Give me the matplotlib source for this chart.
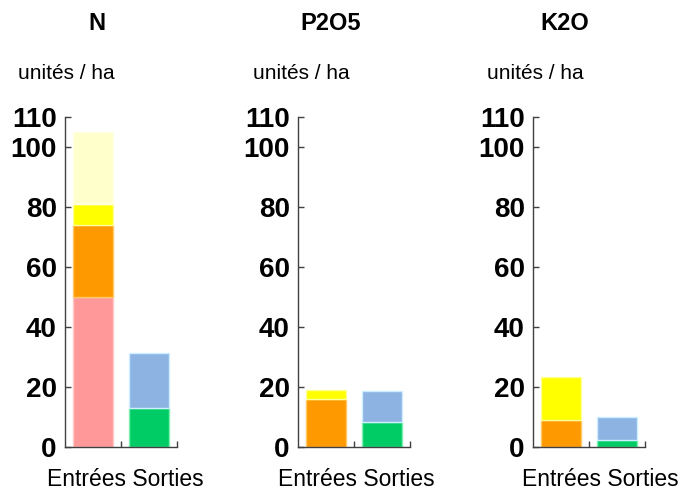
import matplotlib
matplotlib.use("Agg")
import matplotlib.pyplot as plt
import numpy as np

plt.rcParams['font.family'] = ['Liberation Sans', 'DejaVu Sans']

# data (units / ha)
nutrients = ['N', 'P2O5', 'K2O']
unit_label = 'unités / ha'
bar_labels = ['Entrées', 'Sorties']

# inputs, stacked bottom to top
entrees_pink = [50, 0, 0]
entrees_orange = [24, 16, 9]
entrees_yellow = [7, 3, 14.4]
entrees_pale = [24, 0, 0]

# outputs, stacked bottom to top
sorties_green = [13, 8.3, 2.2]
sorties_blue = [18.2, 10.5, 7.8]

yticks = [0, 20, 40, 60, 80, 100, 110]

entree_layers = [(entrees_pink, '#FF9999', '#FFC8C8'),
                 (entrees_orange, '#FF9900', '#FFC866'),
                 (entrees_yellow, '#FFFF00', '#FFFF99'),
                 (entrees_pale, '#FFFFCC', '#FFFFE6')]
sortie_layers = [(sorties_green, '#00CC66', '#80F0B0'),
                 (sorties_blue, '#8DB3E2', '#CCEEFF')]

fig = plt.figure(figsize=(6.97, 4.91), dpi=100)

lefts = [65, 298, 533]           # pixel positions of the y axes
title_x = [97, 331, 565]
unit_x = [18, 253, 487]
cat_x = [125, 356, 600]
W, H = 697, 491
axis_col = '#404040'

for i, name in enumerate(nutrients):
    ax = fig.add_axes([lefts[i] / W, 44 / H, 112 / W, 330 / H])

    bottom = 0
    for vals, col, edge in entree_layers:
        if vals[i] > 0:
            ax.bar(0.5, vals[i], width=0.73, bottom=bottom, color=col,
                   edgecolor=edge, linewidth=1)
        bottom += vals[i]
    bottom = 0
    for vals, col, edge in sortie_layers:
        if vals[i] > 0:
            ax.bar(1.5, vals[i], width=0.72, bottom=bottom, color=col,
                   edgecolor=edge, linewidth=1)
        bottom += vals[i]

    ax.set_xlim(0, 2)
    ax.set_ylim(0, 110)
    ax.set_yticks(yticks)
    ax.set_yticklabels([str(t) for t in yticks], fontsize=20, fontweight='bold')
    ax.set_xticks([1, 2])
    ax.set_xticklabels([])
    ax.tick_params(direction='in', length=4, color=axis_col, width=1, pad=6)
    for s in ['top', 'right']:
        ax.spines[s].set_visible(False)
    for s in ['left', 'bottom']:
        ax.spines[s].set_color(axis_col)
        ax.spines[s].set_linewidth(1)
    ax.patch.set_alpha(0)

    fig.text(title_x[i] / W, (H - 30) / H, name, ha='center', va='baseline',
             fontsize=17, fontweight='bold')
    fig.text(unit_x[i] / W, (H - 79) / H, unit_label, ha='left', va='baseline',
             fontsize=15)
    fig.text(cat_x[i] / W, (H - 486.5) / H, ' '.join(bar_labels), ha='center',
             va='baseline', fontsize=16.5)

fig.savefig('out.png', dpi=100)
